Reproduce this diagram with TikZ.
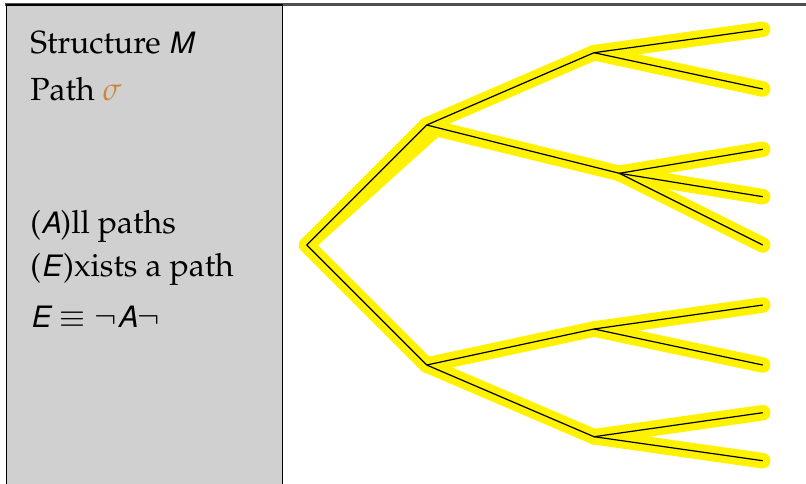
\documentclass[tikz,border=0pt]{standalone}
\usepackage[T1]{fontenc}
\usepackage{mathpazo}
\usepackage[scaled=0.92]{helvet}
\usepackage{xcolor}
\usepackage{tikz}
\definecolor{panelgray}{HTML}{D0D0D0}
\definecolor{sigmaorange}{HTML}{CD8535}
\definecolor{rulegray}{HTML}{505050}
\newcommand{\sfvar}[1]{\textsf{\slshape #1}}

\begin{document}
\begin{tikzpicture}[x=0.5pt,y=-0.5pt,
    hl/.style={yellow,line width=7.8pt,line cap=round,line join=round},
    edge/.style={line width=0.6pt},
    txt/.style={anchor=base west,inner sep=0pt,font=\fontsize{16}{19}\selectfont}]
  \useasboundingbox (0,0) rectangle (806,483);

  % Kopflinie
  \draw[rulegray,line width=1.1pt] (5,4.5) -- (806,4.5);

  % Linke Spalte
  \draw[fill=panelgray,line width=0.6pt] (6.5,5) rectangle (282.5,495);
  \node[txt] (struct) at (30,53) {Structure \sfvar{M}};
  \node[txt] (path) at (30,100) {Path $\color{sigmaorange}\sigma$};
  \node[txt] (all) at (30,233) {(\sfvar{A})ll paths};
  \node[txt] (exists) at (30,276) {(\sfvar{E})xists a path};
  \node[txt] (dual) at (30,327) {$\sfvar{E}\equiv\neg\sfvar{A}\neg$};

  % Baum
  \coordinate (r) at (306.7,245);
  \coordinate (a) at (426.7,125);
  \coordinate (ax) at (436,128.5);
  \coordinate (b) at (426.7,365);
  \coordinate (a1) at (594,52.7);
  \coordinate (a2) at (619.3,173.3);
  \coordinate (b1) at (594,329);
  \coordinate (b2) at (594,436.7);
  \coordinate (l1) at (762.7,29.3);
  \coordinate (l2) at (762.7,89);
  \coordinate (l3) at (762.7,149.3);
  \coordinate (l4) at (762.7,196.7);
  \coordinate (l5) at (762.7,245);
  \coordinate (l6) at (762.7,305);
  \coordinate (l7) at (762.7,365);
  \coordinate (l8) at (762.7,412.7);
  \coordinate (l9) at (762.7,460.7);

  % Pfade markiert
  \draw[hl] (r) -- (ax) -- (a2);
  \foreach \p/\c in {r/a,r/b,a/a1,b/b1,b/b2,a1/l1,a1/l2,a2/l3,a2/l4,a2/l5,b1/l6,b1/l7,b2/l8,b2/l9}
    \draw[hl] (\p) -- (\c);

  % Kanten
  \foreach \p/\c in {r/a,r/b,a/a1,a/a2,b/b1,b/b2,a1/l1,a1/l2,a2/l3,a2/l4,a2/l5,b1/l6,b1/l7,b2/l8,b2/l9}
    \draw[edge] (\p) -- (\c);
\end{tikzpicture}
\end{document}
